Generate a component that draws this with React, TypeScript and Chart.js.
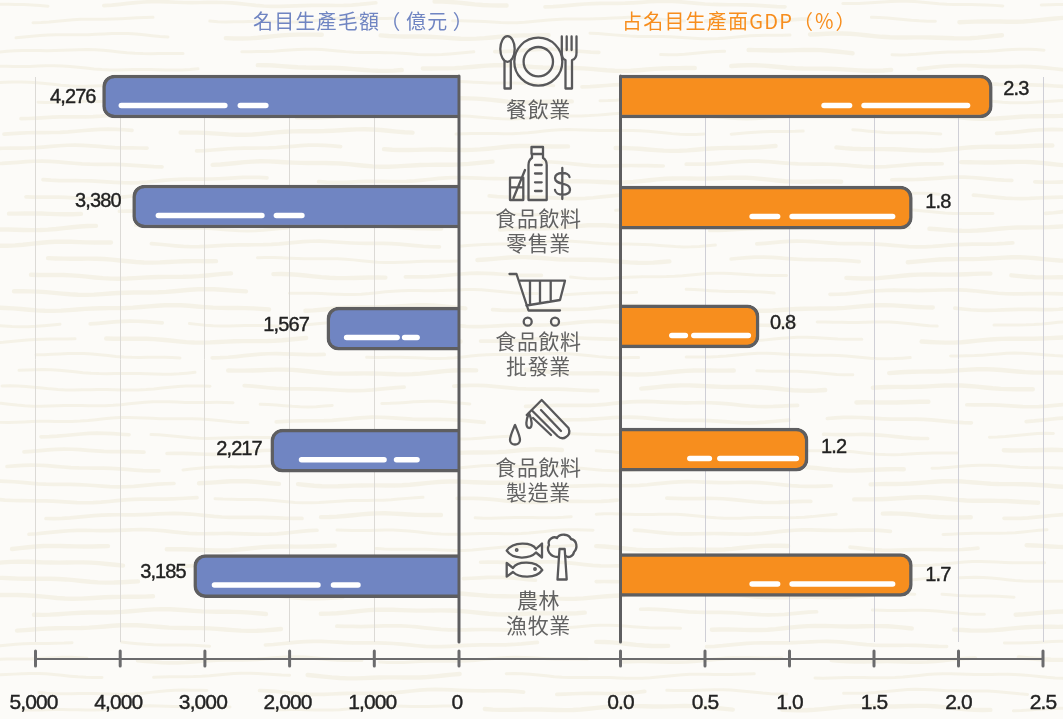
import React, { useEffect, useRef } from "react";
import { Chart, registerables } from "chart.js";

Chart.register(...registerables);

// ---- data ----
const categories = ["餐飲業", "食品飲料\n零售業", "食品飲料\n批發業", "食品飲料\n製造業", "農林\n漁牧業"];
const leftTitle = "名目生產毛額（\u2006億元\u2006）";
const rightTitle = "占名目生產面GDP（％）";
// bar lengths as drawn in the picture
const grossOutputBars = [4208, 3853, 1560, 2222, 3132];
const gdpShareBars = [2.2, 1.727, 0.82, 1.11, 1.727];
// printed value labels
const grossOutputLabels = ["4,276", "3,380", "1,567", "2,217", "3,185"];
const gdpShareLabels = ["2.3", "1.8", "0.8", "1.2", "1.7"];
const leftTicks: Record<number, string> = { 0: "0", 1000: "1,000", 2000: "2,000", 3000: "3,000", 4000: "4,000", 5000: "5,000" };
const rightTicks: Record<number, string> = { 0: "0.0", 0.5: "0.5", 1: "1.0", 1.5: "1.5", 2: "2.0", 2.5: "2.5" };
// uneven row spacing, in row units
const rowsLeft = [0, 1, 2.11, 3.22, 4.36];
const rowsRight = [0, 1.01, 2.09, 3.21, 4.35];

// ---- layout / decoration ----
const BLUE = "#7085c2";
const ORANGE = "#f78e1e";
const DARK = "#5e5e60";
const INK = "#222222";
const NUM_FONT = '20px "Liberation Sans", sans-serif';
const leftDashes = [[16, 109, 10, 31], [23, 109, 9, 31], [17, 56, 2, 18], [28, 88, 7, 26], [18, 109, 10, 30]];
const rightDashes = [[22, 109, 9, 31], [17, 106, 9, 31], [8, 60, 3, 19], [9, 82, 5, 25], [17, 106, 9, 31]];
const leftLabelGap = [7, 12, 18, 9, 8];
const rightLabelGap = [11, 13, 11, 13, 13];
const leftLabelDy = [1.5, -4.5, -3.5, -1.5, -3.5];
const rightLabelDy = [-7, -5, -3, -2.5, 0];
const categoryCentres = [108, 229.5, 352.5, 478.5, 612];
const SPACING = "-0.9px";

function pill(ctx: CanvasRenderingContext2D, x0: number, x1: number, y: number) {
  ctx.beginPath();
  ctx.lineCap = "round";
  ctx.lineWidth = 5.5;
  ctx.strokeStyle = "#ffffff";
  ctx.moveTo(x0 + 2.75, y);
  ctx.lineTo(x1 - 2.75, y);
  ctx.stroke();
}

function makePlugin(side: "left" | "right", dashes: number[][], labels: string[], gap: number[], dy: number[], lineEnd: number) {
  return {
    id: "decor" + side,
    beforeDraw(chart: any) {
      chart.ctx.letterSpacing = SPACING;
    },
    afterDatasetsDraw(chart: any) {
      const { ctx, chartArea } = chart;
      const xs = chart.scales.x;
      const meta = chart.getDatasetMeta(0);
      ctx.save();
      ctx.letterSpacing = SPACING;
      meta.data.forEach((el: any, i: number) => {
        const d = dashes[i];
        const y = el.y + 9;
        if (side === "left") {
          pill(ctx, el.x + d[0], el.x + d[0] + d[1], y);
          pill(ctx, el.x + d[0] + d[1] + d[2], el.x + d[0] + d[1] + d[2] + d[3], y);
        } else {
          pill(ctx, el.x - d[0] - d[1], el.x - d[0], y);
          pill(ctx, el.x - d[0] - d[1] - d[2] - d[3], el.x - d[0] - d[1] - d[2], y);
        }
        ctx.fillStyle = INK;
        ctx.strokeStyle = INK;
        ctx.lineWidth = 0.4;
        ctx.font = NUM_FONT;
        ctx.textBaseline = "middle";
        ctx.textAlign = side === "left" ? "right" : "left";
        const tx = side === "left" ? el.x - gap[i] : el.x + gap[i];
        ctx.fillText(labels[i], tx, el.y + dy[i]);
        ctx.strokeText(labels[i], tx, el.y + dy[i]);
      });
      // central baseline
      const zero = xs.getPixelForValue(0);
      ctx.strokeStyle = DARK;
      ctx.lineWidth = 3;
      ctx.beginPath();
      ctx.moveTo(zero, chartArea.top - 1);
      ctx.lineTo(zero, chartArea.bottom);
      ctx.stroke();
      // detached axis rule with ticks
      const axisY = chartArea.bottom + 17;
      ctx.strokeStyle = "#6b6b6d";
      ctx.lineWidth = 2;
      ctx.beginPath();
      ctx.moveTo(side === "left" ? xs.left : 0, axisY);
      ctx.lineTo(side === "left" ? lineEnd : xs.right, axisY);
      ctx.stroke();
      ctx.lineWidth = 3;
      xs.ticks.forEach((_: any, i: number) => {
        const px = xs.getPixelForTick(i);
        ctx.beginPath();
        ctx.moveTo(px, axisY - 8);
        ctx.lineTo(px, axisY + 7);
        ctx.stroke();
      });
      ctx.restore();
    },
  };
}

function buildChart(
  canvas: HTMLCanvasElement,
  side: "left" | "right",
  values: number[],
  rows: number[],
  color: string,
  max: number,
  step: number,
  tickLabels: Record<number, string>,
  gridColor: string,
  padding: any,
  plugin: any,
) {
  const radius = side === "left"
    ? { topLeft: 12, bottomLeft: 12, topRight: 0, bottomRight: 0 }
    : { topRight: 12, bottomRight: 12, topLeft: 0, bottomLeft: 0 };
  return new Chart(canvas, {
    type: "bar",
    data: {
      datasets: [{
        data: values.map((v, i) => ({ x: v, y: rows[i] })),
        backgroundColor: color,
        borderColor: DARK,
        borderWidth: 3.5,
        borderRadius: radius,
        borderSkipped: "start",
        barThickness: 43,
        clip: false,
      } as any],
    },
    options: {
      indexAxis: "y",
      animation: false,
      responsive: false,
      layout: { padding },
      plugins: { legend: { display: false }, tooltip: { enabled: false }, title: { display: false } },
      scales: {
        y: { type: "linear", display: false, offset: false, reverse: true, min: -0.177, max: 4.959 },
        x: {
          type: "linear",
          reverse: side === "left",
          min: 0,
          max,
          position: "bottom",
          border: { display: false },
          afterFit(scale: any) {
            scale.height = 77;
            scale.paddingLeft = 0;
            scale.paddingRight = 0;
          },
          grid: {
            drawTicks: false,
            lineWidth: 1,
            color: (c: any) => (c.tick && c.tick.value === 0 ? "transparent" : gridColor),
          },
          ticks: {
            stepSize: step,
            padding: 49,
            labelOffset: side === "left" ? -2 : 0,
            maxRotation: 0,
            autoSkip: false,
            color: INK,
            textStrokeColor: INK,
            textStrokeWidth: 0.4,
            font: { family: '"Liberation Sans", sans-serif', size: 21 },
            callback: (v: any) => tickLabels[v],
          },
        },
      },
    } as any,
    plugins: [plugin],
  });
}

function drawTexture(canvas: HTMLCanvasElement) {
  const ctx = canvas.getContext("2d")!;
  ctx.fillStyle = "#fcfbf8";
  ctx.fillRect(0, 0, canvas.width, canvas.height);
  ctx.strokeStyle = "#f5f2e7";
  ctx.lineCap = "round";
  for (let row = 0; row < 46; row++) {
    const y0 = 4 + row * 16;
    let x = -40 + ((row * 73) % 90);
    let n = row * 7 + 3;
    while (x < canvas.width) {
      n = (n * 31 + 17) % 101;
      const len = 70 + n * 2.2;
      ctx.lineWidth = 3 + (n % 3) * 0.7;
      ctx.beginPath();
      for (let t = 0; t <= len; t += 8) {
        const yy = y0 + Math.sin((x + t) / 38 + row) * 2.2 + Math.sin((x + t) / 13 + n) * 0.7;
        if (t === 0) ctx.moveTo(x + t, yy);
        else ctx.lineTo(x + t, yy);
      }
      ctx.stroke();
      x += len + 18 + (n % 5) * 9;
    }
  }
}

const iconStyle: any = { fill: "none", stroke: "#58585a", strokeWidth: 2.3, strokeLinejoin: "round", strokeLinecap: "round" };

function Icons() {
  return (
    <svg width={1063} height={719} viewBox="0 0 1063 719" style={{ position: "absolute", left: 0, top: 0, pointerEvents: "none" }}>
      <g {...iconStyle}>
        {/* cutlery and plate */}
        <ellipse cx={507.5} cy={49} rx={7.2} ry={12.8} />
        <path d="M504.5 61.5 V88.5 H510.8 V61.5" />
        <circle cx={538.3} cy={61.7} r={24} />
        <circle cx={538.3} cy={61.7} r={14.7} />
        <path d="M561.8 36.5 V53 Q561.8 59 565.5 60 V88.5 H572 V60 Q576.5 59 576.5 53 V36.5 M566.7 36.5 V50 M571.6 36.5 V50" />
        {/* bottle, glass, dollar */}
        <path d="M531.5 147 H543 V154 H531.5 Z M532 154 V158 Q528.5 160 528.5 165 V200 H546.7 V165 Q546.7 160 543 158 V154" />
        <path d="M535 165 H541.7 M535 173.5 H541.7 M535 182.3 H541.7 M535 191 H541.7" />
        <path d="M510 177.7 H523.3 V200 H510 Z M510 187.3 H523.3 M525 170 L513.5 198" />
        <path d="M569.5 177 C569 171.5 555.5 171.5 555 178 C555 186 570 181 570 190 C570 196.5 555.5 196 555 190 M562.3 168 V199" />
        {/* cart */}
        <path d="M509.5 274 H516.5 L528.5 310.5 H560" />
        <path d="M520 280.7 H565 L560 300 L526.5 305.5 M530 280.7 V304 M540 280.7 V303 M550.7 280.7 V301" />
        <circle cx={527.7} cy={321.7} r={4} />
        <circle cx={555} cy={321.7} r={4} />
        {/* test tube and drops */}
        <path d="M526.7 415 L541.7 400 L568.5 428 Q571 434 566 437 Q562 440 557.5 436 L531.5 410" />
        <path d="M541 410 L561 431 M533 418 L551 435" />
        <path d="M529 413 C526 420 525 427 529 428 C533 428 532 420 529 413 Z" />
        <path d="M515 425 C512 432 510 436 510 440 C510 446 520 446 520 440 C520 436 518 432 515 425 Z" />
        {/* fish and tree */}
        <path d="M506.7 550.7 C513 541 532 542 536 549 L542 543.5 V557.5 L536 552.5 C530 559 513 560 506.7 550.7 Z" />
        <circle cx={516.7} cy={550} r={0.8} />
        <path d="M542.3 570 C536 560 517 561 513 568 L506.7 563 V576.7 L513 572 C519 578 536 579 542.3 570 Z" />
        <circle cx={535} cy={569} r={0.8} />
        <path d="M558 557 C550 557 546 550 549 545 C547 539 554 536 557 538 C560 533 569 534 571 539 C577 540 578 548 574 552 C573 557 568 558 566 556" />
        <path d="M559.5 549 L557.5 579.5 H566.7 L564.7 549 Z" />
      </g>
    </svg>
  );
}

export default function App() {
  const bg = useRef<HTMLCanvasElement>(null);
  const left = useRef<HTMLCanvasElement>(null);
  const right = useRef<HTMLCanvasElement>(null);

  useEffect(() => {
    drawTexture(bg.current!);
    const a = buildChart(left.current!, "left", grossOutputBars, rowsLeft, BLUE, 5000, 1000, leftTicks, "#dcdad6", { top: 77, left: 35.5, right: 72, bottom: 0 },
      makePlugin("left", leftDashes, grossOutputLabels, leftLabelGap, leftLabelDy, 531));
    const b = buildChart(right.current!, "right", gdpShareBars, rowsRight, ORANGE, 2.5, 0.5, rightTicks, "#cfcfd6", { top: 77, left: 89.5, right: 20, bottom: 0 },
      makePlugin("right", rightDashes, gdpShareLabels, rightLabelGap, rightLabelDy, 0));
    return () => { a.destroy(); b.destroy(); };
  }, []);

  const titleBase: any = { position: "absolute", top: 21, whiteSpace: "nowrap", fontFamily: '"Noto Sans CJK TC", sans-serif', fontSize: 20, lineHeight: "24px", letterSpacing: 1.2 };

  return (
    <div style={{ position: "fixed", left: 0, top: 0, width: 1063, height: 719, overflow: "hidden" }}>
      <canvas ref={bg} width={1063} height={719} style={{ position: "absolute", left: 0, top: 0 }} />
      <canvas ref={left} width={531} height={719} style={{ position: "absolute", left: 0, top: 0 }} />
      <canvas ref={right} width={532} height={719} style={{ position: "absolute", left: 531, top: 0 }} />
      <Icons />
      <div style={{ ...titleBase, left: 253, transform: "translateY(-50%)", color: BLUE }}>{leftTitle}</div>
      <div style={{ ...titleBase, left: 622, transform: "translateY(-50%)", color: ORANGE }}>{rightTitle}</div>
      {categories.map((c, i) => (
        <div key={c + i} style={{ position: "absolute", left: 538.5, top: categoryCentres[i], transform: "translate(-50%,-50%)", textAlign: "center", whiteSpace: "pre", color: "#626262", fontFamily: '"Noto Sans CJK TC", sans-serif', fontSize: 21, letterSpacing: 0.6, lineHeight: "25px" }}>{c}</div>
      ))}
    </div>
  );
}
